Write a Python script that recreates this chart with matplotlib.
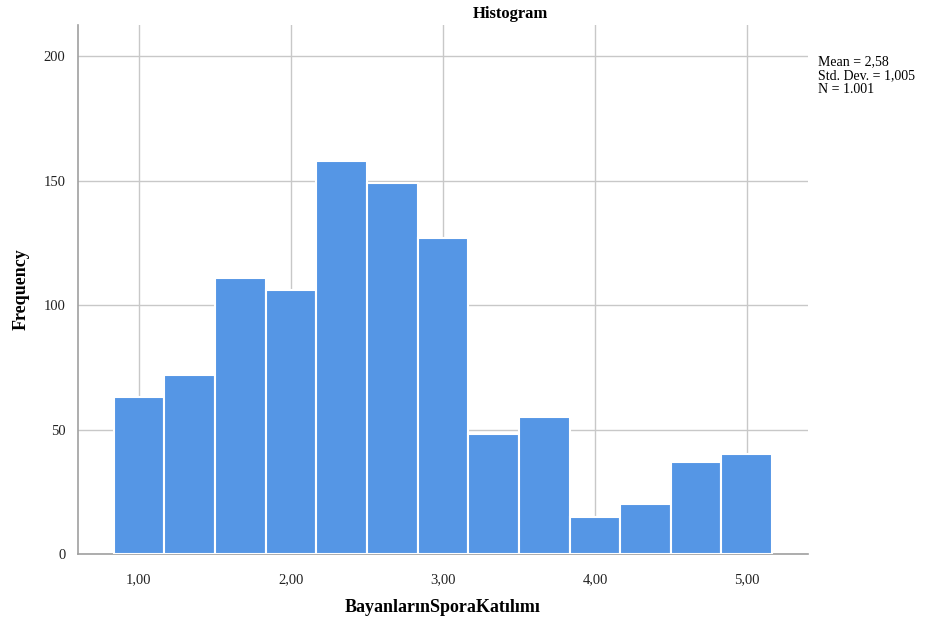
import matplotlib.pyplot as plt
import numpy as np

# histogram bins (lower edges) and counts
bin_start = 0.835
bin_width = 0.333
counts = [63, 72, 111, 106, 158, 149, 127, 48, 55, 15, 20, 37, 40]
x_ticks = [1, 2, 3, 4, 5]
x_tick_labels = ['1,00', '2,00', '3,00', '4,00', '5,00']
y_ticks = [0, 50, 100, 150, 200]
stats_text = "Mean = 2,58\nStd. Dev. = 1,005\nN = 1.001"

plt.rcParams['font.family'] = ['Liberation Serif', 'DejaVu Serif']

fig = plt.figure(figsize=(9.28, 6.23), dpi=100)
ax = fig.add_axes([0.0841, 0.1108, 0.7866, 0.849])

edges = bin_start + bin_width * np.arange(len(counts))
ax.bar(edges, counts, width=bin_width, align='edge', color='#5596E5',
       edgecolor='white', linewidth=1.5, zorder=3)

ax.set_xlim(0.6, 5.4)
ax.set_ylim(0, 212.5)
ax.set_xticks(x_ticks)
ax.set_xticklabels(x_tick_labels)
ax.set_yticks(y_ticks)
ax.tick_params(length=0, labelsize=10.5, colors='#222222', pad=14)
ax.tick_params(axis='y', pad=9)
ax.grid(True, color='#c8c8c8', linewidth=1, zorder=0)

for s in ['top', 'right']:
    ax.spines[s].set_visible(False)
for s in ['left', 'bottom']:
    ax.spines[s].set_color('#a0a0a0')
    ax.spines[s].set_linewidth(1.2)

ax.set_xlabel('BayanlarınSporaKatılımı', fontsize=13, fontweight='bold', labelpad=9)
ax.set_ylabel('Frequency', fontsize=13, fontweight='bold', labelpad=10)
fig.text(0.5496, 0.977, 'Histogram', ha='center', va='center', fontsize=12, fontweight='bold')
fig.text(0.882, 0.912, stats_text, ha='left', va='top', fontsize=10, linespacing=1.12)

fig.savefig('out.png', dpi=100)
